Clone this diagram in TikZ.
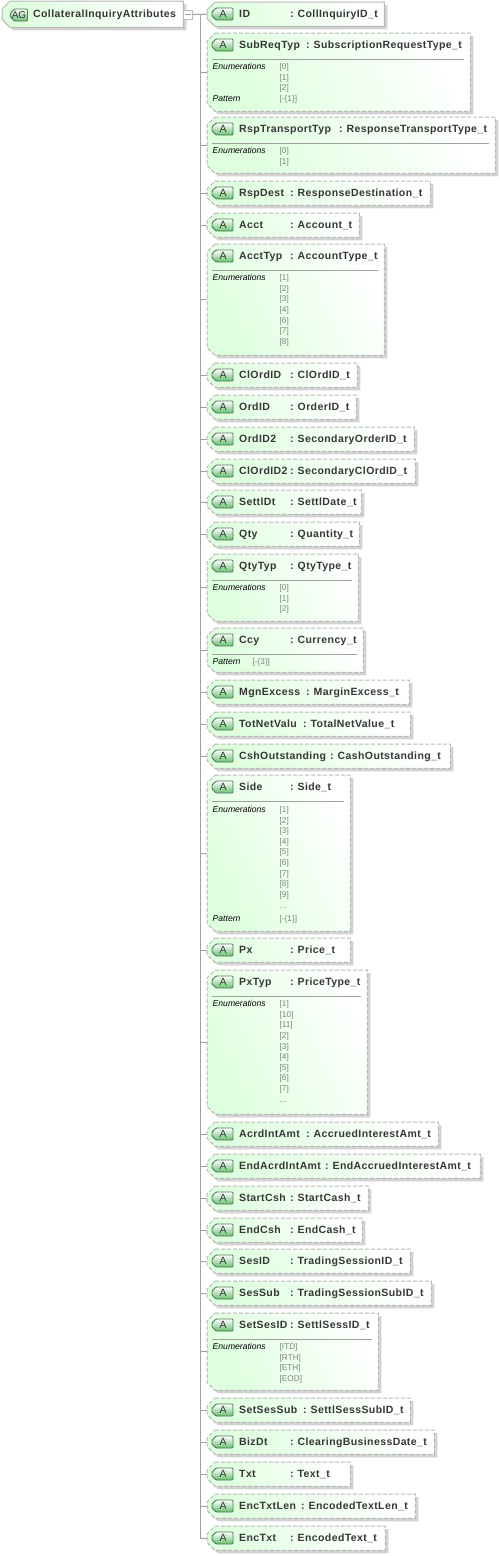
\documentclass[tikz,border=0pt]{standalone}
\usepackage{fontspec}
\setmainfont{Liberation Sans}
\newfontfamily\rotulofont[LetterSpace=3.8]{Liberation Sans}
\usepackage{tikz}
\usetikzlibrary{calc,positioning,shadows}
\definecolor{fundo}{HTML}{FFFFFF}
\definecolor{titulo}{HTML}{363636}
\definecolor{verde}{HTML}{DEFFDE}
\definecolor{borda}{HTML}{B8B8B8}
\definecolor{sombra}{HTML}{D2D2D2}
\definecolor{linha}{HTML}{A0A0A0}
\definecolor{selo}{HTML}{68C070}
\definecolor{selob}{HTML}{4E7A58}
\definecolor{faceta}{HTML}{808080}
% outline of a box around node #2, #1 is the line style
\newcommand{\caixa}[2]{\draw[attr,#1] ($(#2.north west)+(8,0)$) -- (#2.north east) -- (#2.south east) -- ($(#2.south west)+(8,0)$) -- ($(#2.south west)+(0,-8)$) -- ($(#2.north west)+(0,8)$) -- cycle;}
% badge outline: left x, middle y, width
\newcommand{\selo}[3]{\draw[badge] (#1+4,#2-6) -- (#1+#3,#2-6) -- (#1+#3,#2+6) -- (#1+4,#2+6) -- (#1,#2+2) -- (#1,#2-2) -- cycle;}

\begin{document}
\begin{tikzpicture}[x=1pt,y=-1pt, font=\fontsize{11}{13}\selectfont,
    attr/.style={draw=borda, line width=1pt, left color=verde, right color=fundo, shading angle=115, drop shadow={shadow xshift=3pt, shadow yshift=-3pt, fill=sombra, opacity=1}},
    opt/.style={dash pattern=on 4pt off 2pt},
    area/.style={inner sep=0pt, anchor=north west},
    badge/.style={draw=selob, line width=0.9pt, rounded corners=1pt, top color=fundo, bottom color=selo},
    selotxt/.style={inner sep=0pt, text=titulo, font=\fontsize{10.5}{12}\selectfont},
    rotulo/.style={font=\rotulofont\fontsize{10.5}{13}\selectfont\bfseries, text=titulo, anchor=base west, inner sep=0pt},
    fac/.style={font=\fontsize{8.6}{10}\selectfont\itshape, text=black, anchor=base west, inner sep=0pt},
    val/.style={font=\fontsize{8.2}{10}\selectfont, text=faceta, anchor=base west, inner sep=0pt},
    ar/.style={draw=linha, line width=1pt}]
  \useasboundingbox (0,0) rectangle (500,1556);
  % root group
  \node[area, minimum width=181pt, minimum height=26pt] (root) at (2,1) {};
  \caixa{}{root}
  \selo{10.5}{15}{17}
  \node[selotxt, font=\fontsize{10}{12}\selectfont] (ag) at (19,15) {AG};
  \node[rotulo] (rootname) at (33,17) {CollateralInquiryAttributes};
  \node[draw=borda, line width=1pt, fill=fundo, minimum width=9pt, minimum height=9pt, inner sep=0pt] (minus) at (188,14.5) {};
  \draw[linha, line width=1pt] ($(minus.west)+(2,0)$) -- ($(minus.east)+(-2,0)$);
  % required attribute
  \node[area, minimum width=177pt, minimum height=24pt] (ID) at (207,2) {};
  \caixa{}{ID}
  \selo{212}{14}{21}
  \node[selotxt] (ID-a) at (223,14) {A};
  \node[rotulo] (ID-n) at (239,17) {ID};
  \node[rotulo] (ID-c) at (290,17) {:};
  \node[rotulo] (ID-t) at (297.5,17) {CollInquiryID\_t};
  % attributes
  \foreach \id/\y/\h/\w/\c/\typ in {
    SubReqTyp/33/78/263/306/SubscriptionRequestType\_t,
    RspTransportTyp/117/56/288/339/ResponseTransportType\_t,
    RspDest/181/24/223/290/ResponseDestination\_t,
    Acct/213/24/152/290/Account\_t,
    AcctTyp/244/111/177/290/AccountType\_t,
    ClOrdID/363/24/150/290/ClOrdID\_t,
    OrdID/395/24/149/290/OrderID\_t,
    OrdID2/427/24/207/290/SecondaryOrderID\_t,
    ClOrdID2/459/24/208/290/SecondaryClOrdID\_t,
    SettlDt/490/24/154/290/SettlDate\_t,
    Qty/522/24/152/290/Quantity\_t,
    QtyTyp/554/67/151/290/QtyType\_t,
    Ccy/628/44/156/290/Currency\_t,
    MgnExcess/680/24/202/306/MarginExcess\_t,
    TotNetValu/712/24/203/303/TotalNetValue\_t,
    CshOutstanding/744/24/243/330/CashOutstanding\_t,
    Side/775/156/143/290/Side\_t,
    Px/938/24/143/290/Price\_t,
    PxTyp/970/144/160/290/PriceType\_t,
    AcrdIntAmt/1122/24/231/306/AccruedInterestAmt\_t,
    EndAcrdIntAmt/1154/24/273/325/EndAccruedInterestAmt\_t,
    StartCsh/1186/24/161/290/StartCash\_t,
    EndCsh/1218/24/155/290/EndCash\_t,
    SesID/1249/24/203/290/TradingSessionID\_t,
    SesSub/1281/24/224/290/TradingSessionSubID\_t,
    SetSesID/1313/77/171/290/SettlSessID\_t,
    SetSesSub/1398/24/203/303/SettlSessSubID\_t,
    BizDt/1430/24/227/290/ClearingBusinessDate\_t,
    Txt/1462/24/143/290/Text\_t,
    EncTxtLen/1494/24/208/301/EncodedTextLen\_t,
    EncTxt/1526/24/178/290/EncodedText\_t}{
    \node[area, minimum width=\w pt, minimum height=\h pt] (\id) at (207,\y) {};
    \caixa{opt}{\id}
    \selo{212}{\y+12}{21}
    \node[selotxt] (\id-a) at (223,\y+12) {A};
    \node[rotulo] (\id-n) at (239,\y+15.5) {\id};
    \node[rotulo] (\id-c) at (\c,\y+15.5) {:};
    \node[rotulo] (\id-t) at (\c+7.5,\y+15.5) {\typ};
  }
  % facets
  \foreach \id/\y/\w in {SubReqTyp/59/458,RspTransportTyp/143/483,AcctTyp/270/372,QtyTyp/580/346,Ccy/654/351,Side/801/338,PxTyp/996/355,SetSesID/1339/366}{
    \draw[draw=linha, line width=1pt] (212,\y) -- (\w+6,\y);
  }
  \foreach \t/\y/\v in {Enumerations/69.5/{[0]},Pattern/101/{[-\{1\}]},Enumerations/153.5/{[0]},Enumerations/280.5/{[1]},Enumerations/590.5/{[0]},Enumerations/812.5/{[1]},Pattern/921/{[-\{1\}]},Enumerations/1006.5/{[1]},Enumerations/1349.5/{[ITD]}}{
    \node[fac] at (212.5,\y) {\t};
    \node[val] at (279.5,\y) {\v};
  }
  \node[fac] (ccy-p) at (212.5,664.5) {Pattern};
  \node[val] (ccy-v) at (252.5,664.5) {[-\{3\}]};
  \foreach \v/\y in {{[1]}/80,{[2]}/90.5,{[1]}/164,{[2]}/291,{[3]}/301.5,{[4]}/312,{[6]}/323,{[7]}/333.5,{[8]}/344,{[1]}/601,{[2]}/611.5,{[2]}/823,{[3]}/833.5,{[4]}/844,{[5]}/854.5,{[6]}/865.5,{[7]}/876,{[8]}/886.5,{[9]}/897,{...}/908,{[10]}/1017,{[11]}/1027.5,{[2]}/1038,{[3]}/1049,{[4]}/1059.5,{[5]}/1070,{[6]}/1080.5,{[7]}/1091.5,{...}/1102,{[RTH]}/1360,{[ETH]}/1370.5,{[EOD]}/1381}{
    \node[val] at (279.5,\y) {\v};
  }
  % connectors
  \coordinate (trunk) at ($(minus.east)+(7,0)$);
  \draw[ar] (minus.east) -- (ID.west);
  \foreach \id in {SubReqTyp,RspTransportTyp,RspDest,Acct,AcctTyp,ClOrdID,OrdID,OrdID2,ClOrdID2,SettlDt,Qty,QtyTyp,Ccy,MgnExcess,TotNetValu,CshOutstanding,Side,Px,PxTyp,AcrdIntAmt,EndAcrdIntAmt,StartCsh,EndCsh,SesID,SesSub,SetSesID,SetSesSub,BizDt,Txt,EncTxtLen,EncTxt}{
    \draw[ar] (trunk) |- (\id.west);
  }
\end{tikzpicture}
\end{document}
